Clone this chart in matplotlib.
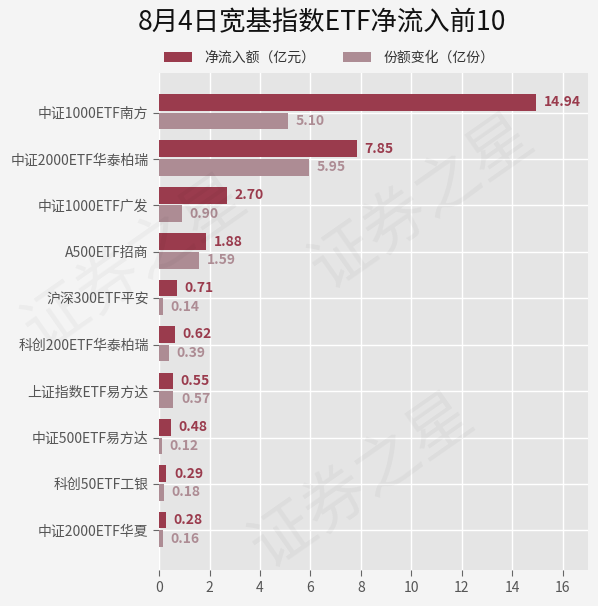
import numpy as np
import matplotlib.pyplot as plt

plt.rcParams['font.family'] = ['Noto Sans CJK SC', 'DejaVu Sans']

# data
names = ['中证1000ETF南方', '中证2000ETF华泰柏瑞', '中证1000ETF广发', 'A500ETF招商',
         '沪深300ETF平安', '科创200ETF华泰柏瑞', '上证指数ETF易方达', '中证500ETF易方达',
         '科创50ETF工银', '中证2000ETF华夏']
net_inflow = [14.94, 7.85, 2.70, 1.88, 0.71, 0.62, 0.55, 0.48, 0.29, 0.28]
share_change = [5.10, 5.95, 0.90, 1.59, 0.14, 0.39, 0.57, 0.12, 0.18, 0.16]

dark = '#9a3b4d'
light = '#ad8c94'

fig = plt.figure(figsize=(5.98, 6.06), dpi=100, facecolor='#f4f4f4')
ax = fig.add_axes([0.266, 0.059, 0.717, 0.821], facecolor='#e5e5e5')

y = np.arange(len(names))
h = 0.36
ax.barh(y - 0.22, net_inflow, height=h, color=dark, label='净流入额（亿元）', zorder=3)
ax.barh(y + 0.18, share_change, height=h, color=light, label='份额变化（亿份）', zorder=3)

for yi, v in zip(y, net_inflow):
    ax.text(v + 0.3, yi - 0.22, f'{v:.2f}', va='center', ha='left', fontsize=10,
            fontweight='bold', color=dark, zorder=4)
for yi, v in zip(y, share_change):
    ax.text(v + 0.3, yi + 0.18, f'{v:.2f}', va='center', ha='left', fontsize=10,
            fontweight='bold', color=light, zorder=4)

ax.set_yticks(y)
ax.set_yticklabels(names)
ax.set_ylim(len(names) - 1 + 0.86, -0.86)
ax.set_xlim(0, 17)
ax.set_xticks(range(0, 17, 2))
ax.grid(True, color='white', linewidth=1, zorder=1)
ax.tick_params(colors='#555555', labelsize=10, length=4, color='#666666')
for s in ax.spines.values():
    s.set_visible(False)

# faint watermark, kept inside the figure
for (wx, wy) in [(0.02, 0.40), (0.40, 0.04), (0.50, 0.50)]:
    fig.text(wx, wy, '证券之星', fontsize=46, color='#000000', alpha=0.035,
             rotation=35, ha='left', va='bottom', zorder=0)

fig.text(0.538, 0.962, '8月4日宽基指数ETF净流入前10', ha='center', va='center',
         fontsize=19, color='#111111')
fig.legend(loc='center', bbox_to_anchor=(0.55, 0.905), ncol=2, frameon=False,
           fontsize=10, handlelength=2.0, handleheight=0.7, handletextpad=0.9,
           columnspacing=2.0, labelcolor='#333333')

fig.savefig('out.png', dpi=100, facecolor=fig.get_facecolor())
